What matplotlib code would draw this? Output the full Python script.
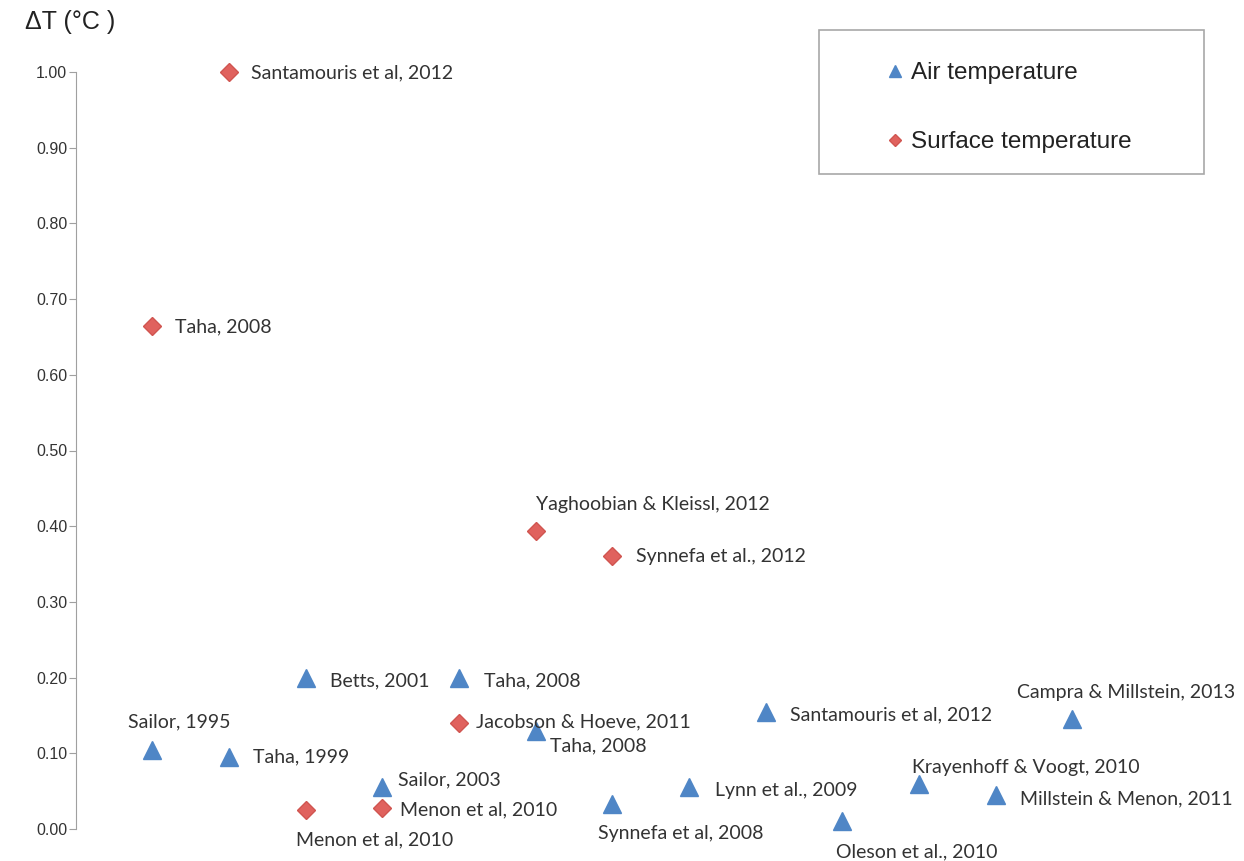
import matplotlib.pyplot as plt
from matplotlib.patches import Rectangle

# Air temperature studies (blue triangles)
air_x = [1, 2, 3, 4, 5, 6, 7, 8, 9, 10, 11, 12, 13]
air_dt = [0.105, 0.095, 0.20, 0.055, 0.20, 0.13, 0.033, 0.055, 0.155, 0.01, 0.06, 0.045, 0.145]
air_labels = ["Sailor, 1995", "Taha, 1999", "Betts, 2001", "Sailor, 2003", "Taha, 2008",
              "Taha, 2008", "Synnefa et al, 2008", "Lynn et al., 2009", "Santamouris et al, 2012",
              "Oleson et al., 2010", "Krayenhoff & Voogt, 2010", "Millstein & Menon, 2011",
              "Campra & Millstein, 2013"]

# Surface temperature studies (red diamonds)
surf_x = [2, 1, 6, 7, 5, 3, 4]
surf_dt = [1.00, 0.665, 0.394, 0.361, 0.14, 0.025, 0.028]
surf_labels = ["Santamouris et al, 2012", "Taha, 2008", "Yaghoobian & Kleissl, 2012",
               "Synnefa et al., 2012", "Jacobson & Hoeve, 2011", "Menon et al, 2010",
               "Menon et al, 2010"]

y_ticks = [0.0, 0.1, 0.2, 0.3, 0.4, 0.5, 0.6, 0.7, 0.8, 0.9, 1.0]

# label placement, offsets in pixels from the marker (dx to left edge, dy downwards)
air_offsets = [(-24, -28), (24, 0), (24, 3), (16, -7), (25, 3), (15, 15), (-14, 29),
               (26, 3), (25, 3), (-6, 30), (-7, -16), (24, 4), (-55, -27)]
surf_offsets = [(22, 1), (23, 1), (0, -26), (24, 1), (17, -1), (-10, 30), (18, 2)]

BLUE = "#4F86C6"
RED = "#E0625E"
LABEL_FONT = "Lato"
PX = 0.72  # points per pixel at dpi 100
W, H = 1244, 861

fig = plt.figure(figsize=(12.44, 8.61), dpi=100)
ax = fig.add_axes([75.5 / W, 32 / H, 1150 / W, 757 / H])

ax.plot(air_x, air_dt, linestyle="none", marker="^", ms=13, color=BLUE,
        label="Air temperature", clip_on=False)
ax.plot(surf_x, surf_dt, linestyle="none", marker="D", ms=9, color=RED,
        markeredgecolor="#D05550", label="Surface temperature", clip_on=False)

for x, y, txt, (dx, dy) in zip(air_x, air_dt, air_labels, air_offsets):
    ax.annotate(txt, (x, y), xytext=(dx * PX, -dy * PX), textcoords="offset points",
                ha="left", va="center", fontsize=14, family=LABEL_FONT, color="#333333")
for x, y, txt, (dx, dy) in zip(surf_x, surf_dt, surf_labels, surf_offsets):
    ax.annotate(txt, (x, y), xytext=(dx * PX, -dy * PX), textcoords="offset points",
                ha="left", va="center", fontsize=14, family=LABEL_FONT, color="#333333")

ax.set_xlim(0, 15)
ax.set_ylim(0, 1.0)
ax.set_yticks(y_ticks)
ax.set_yticklabels([f"{t:.2f}" for t in y_ticks], family="Liberation Sans",
                   fontsize=11.5, color="#333333")
ax.set_xticks([])
for side in ["top", "right", "bottom"]:
    ax.spines[side].set_visible(False)
ax.spines["left"].set_color("#A0A0A0")
ax.tick_params(axis="y", length=5, color="#A0A0A0", pad=1)

fig.text(25 / W, 1 - 22 / H, "ΔT (°C )", family="Liberation Sans", fontsize=18,
         ha="left", va="center", color="#222222")

# legend box drawn separately, entries placed inside it
fig.patches.append(Rectangle((819 / W, 1 - 174 / H), 385 / W, 144 / H, transform=fig.transFigure,
                             facecolor="none", edgecolor="#A8A8A8", linewidth=1.2))
leg = ax.legend(loc="upper left", bbox_to_anchor=(888 / W, 1 - 62 / H),
                bbox_transform=fig.transFigure, frameon=False,
                prop={"family": "Liberation Sans", "size": 17.5},
                borderpad=0, labelspacing=1.95, handlelength=0.6, handletextpad=0.35,
                borderaxespad=0, markerscale=0.7)
for t in leg.get_texts():
    t.set_color("#222222")

fig.savefig("out.png", dpi=100)
